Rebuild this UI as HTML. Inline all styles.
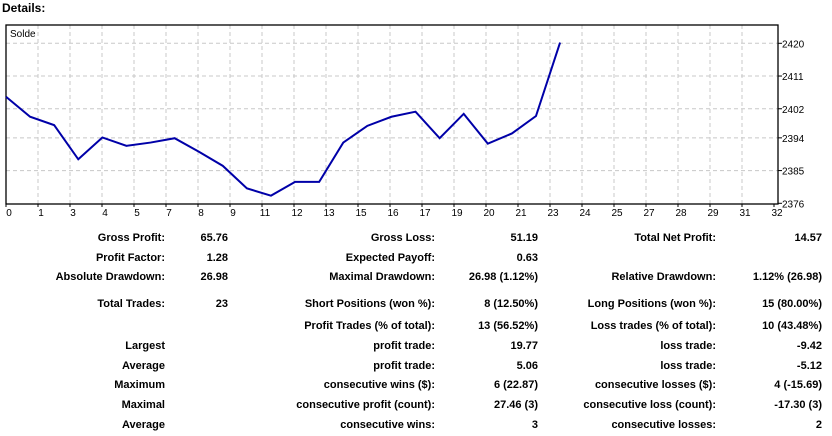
<!DOCTYPE html>
<html><head><meta charset="utf-8"><style>
body{margin:0;width:832px;height:436px;background:#fff;font-family:"Liberation Sans",sans-serif;position:relative;overflow:hidden}
.t{position:absolute;font-size:11px;font-weight:bold;color:#000;white-space:nowrap;line-height:13px}
.r{transform:translateX(-100%)}
</style></head><body>
<div class="t" style="left:2px;top:2px;font-size:12px">Details:</div>
<svg id="chart" width="832" height="220" style="position:absolute;left:0;top:0" font-family="Liberation Sans, sans-serif" font-size="10"></svg>
<div id="tbl"></div>
<script>
const balance=[2405.3,2399.8,2397.5,2388.1,2394.1,2391.8,2392.7,2393.9,2390.2,2386.3,2380.1,2378.1,2381.9,2381.9,2392.7,2397.3,2399.8,2401.2,2393.9,2400.6,2392.4,2395.2,2400.0,2420.2];
const yTicks=[2420,2411,2402,2394,2385,2376];
const xTickLabels=["0","1","3","4","5","7","8","9","11","12","13","15","16","17","19","20","21","23","24","25","27","28","29","31","32"];
const NS="http://www.w3.org/2000/svg";
const svg=document.getElementById('chart');
const L=6,R=778,T=25,B=204;
const yOf=v=>43.3+(2420-v)*(160/44);
const xOf=i=>6+i*24.09;
const gx=k=>6+32*k;
function mk(tag,at){const e=document.createElementNS(NS,tag);for(const k in at)e.setAttribute(k,at[k]);svg.appendChild(e);return e;}
yTicks.forEach((v,i)=>{
 const y=yOf(v);
 if(i<yTicks.length-1){const g=mk('line',{x1:L,x2:R,y1:y,y2:y,stroke:'#c8c8c8','stroke-dasharray':'4,3'});
 
 }
 const tk=mk('line',{x1:R,x2:R+4,y1:y,y2:y,stroke:'#000'});
 
 
 const t=mk('text',{x:R+4,y:y+4});t.textContent=v;
 
 
});
xTickLabels.forEach((s,k)=>{
 const x=gx(k);
 if(k>0&&k<xTickLabels.length-1){const g=mk('line',{x1:x,x2:x,y1:T,y2:B,stroke:'#c8c8c8','stroke-dasharray':'4,3'});
 
 }
 const tk=mk('line',{x1:x,x2:x,y1:B,y2:B+3,stroke:'#000'});
 
 
 const t=mk('text',{x:x+3,y:B+12,'text-anchor':'middle'});t.textContent=s;
 
 
});
const fr=mk('rect',{x:L,y:T,width:R-L,height:B-T,fill:'none',stroke:'#000','stroke-width':1.3});


const lg=mk('text',{x:10,y:37});lg.textContent='Solde';


const ln=mk('polyline',{points:balance.map((v,i)=>xOf(i)+','+yOf(v)).join(' '),fill:'none',stroke:'#0000a8','stroke-width':2});



const rows=[
[237,["Gross Profit:","65.76","Gross Loss:","51.19","Total Net Profit:","14.57"]],
[257,["Profit Factor:","1.28","Expected Payoff:","0.63","",""]],
[276,["Absolute Drawdown:","26.98","Maximal Drawdown:","26.98 (1.12%)","Relative Drawdown:","1.12% (26.98)"]],
[303,["Total Trades:","23","Short Positions (won %):","8 (12.50%)","Long Positions (won %):","15 (80.00%)"]],
[325,["","","Profit Trades (% of total):","13 (56.52%)","Loss trades (% of total):","10 (43.48%)"]],
[345,["Largest","","profit trade:","19.77","loss trade:","-9.42"]],
[365,["Average","","profit trade:","5.06","loss trade:","-5.12"]],
[384,["Maximum","","consecutive wins ($):","6 (22.87)","consecutive losses ($):","4 (-15.69)"]],
[404,["Maximal","","consecutive profit (count):","27.46 (3)","consecutive loss (count):","-17.30 (3)"]],
[424,["Average","","consecutive wins:","3","consecutive losses:","2"]]];
const cols=[165,228,435,538,716,822];
const tbl=document.getElementById('tbl');
rows.forEach(([y,cells])=>{cells.forEach((s,c)=>{if(!s)return;
 const d=document.createElement('div');d.className='t r';d.style.left=cols[c]+'px';d.style.top=(y-5)+'px';d.textContent=s;
 
 
 tbl.appendChild(d);});});
</script>
</body></html>
